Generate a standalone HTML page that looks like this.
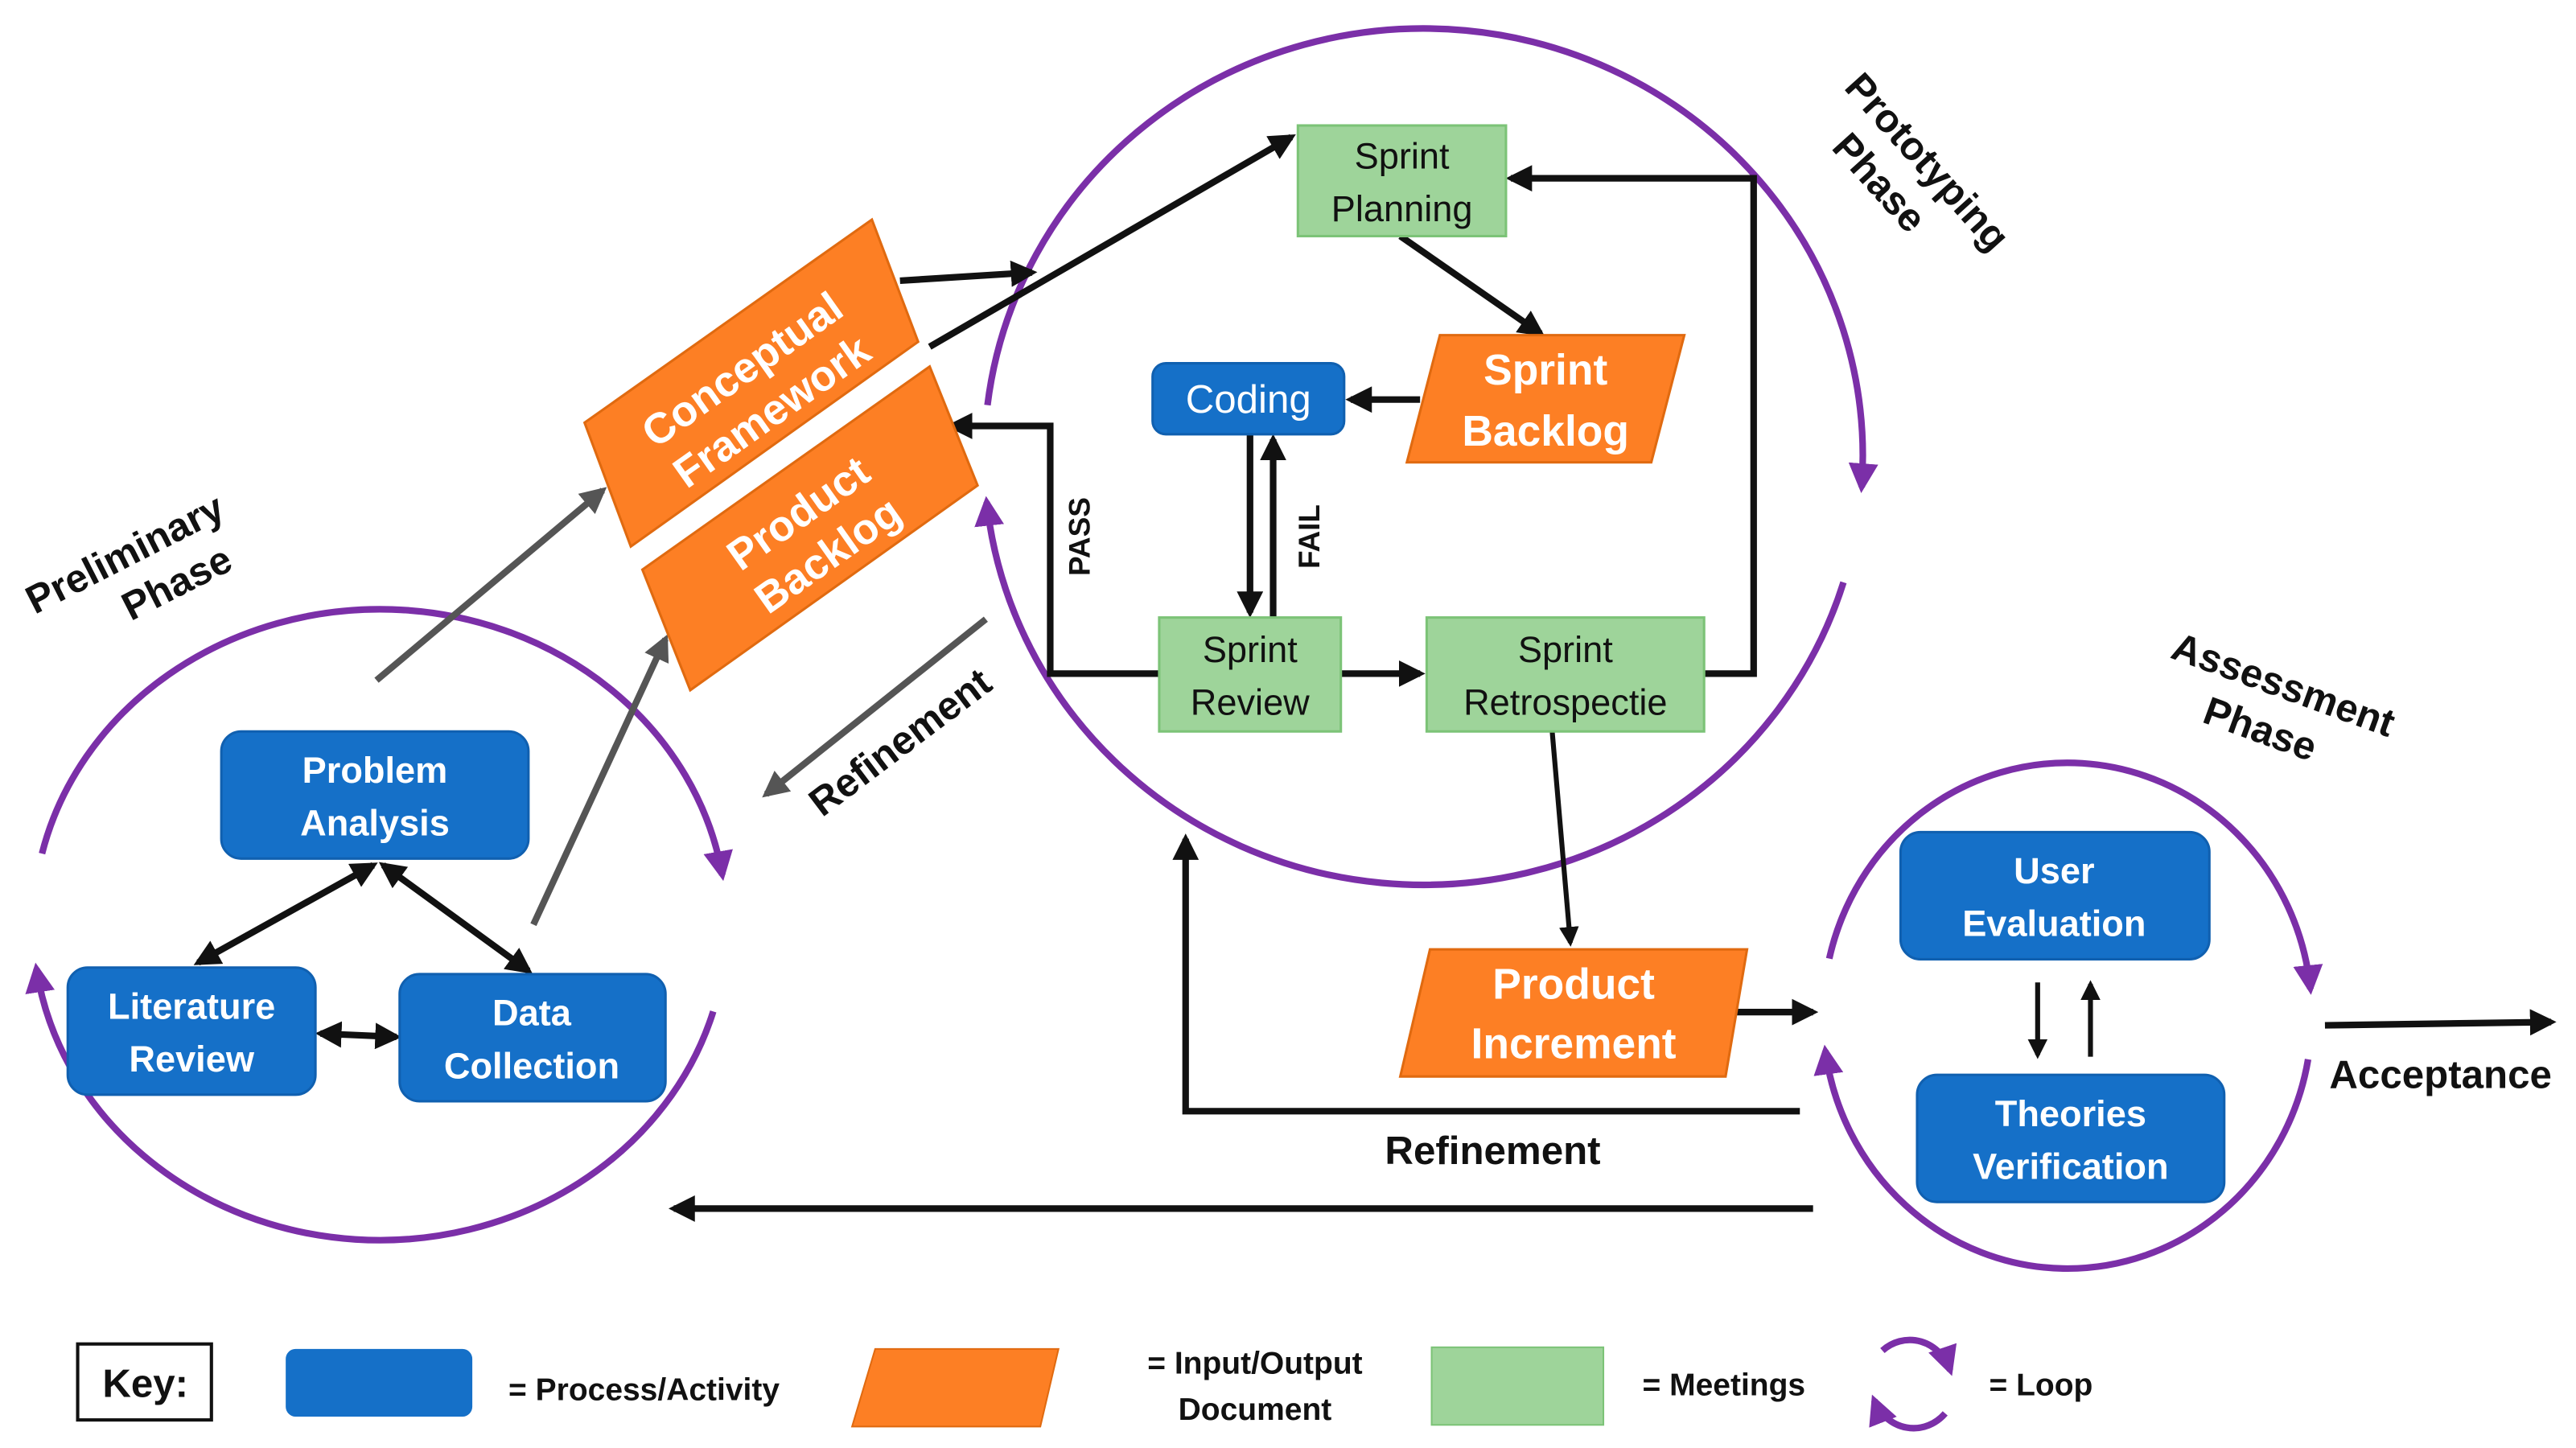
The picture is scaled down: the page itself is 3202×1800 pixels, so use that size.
<!DOCTYPE html>
<html><head><meta charset="utf-8"><style>
html,body{margin:0;padding:0;background:#fff;}
svg{display:block;}
text{font-family:"Liberation Sans Narrow","Liberation Sans",sans-serif;}
</style></head><body>
<svg width="3202" height="1800" viewBox="0 0 1560 877" xmlns="http://www.w3.org/2000/svg">
<defs>
<marker id="ab" viewBox="0 0 10 10" refX="8" refY="5" markerWidth="4" markerHeight="4" orient="auto-start-reverse"><path d="M0,0 L10,5 L0,10 z" fill="#111"/></marker>
<marker id="ag" viewBox="0 0 10 10" refX="8" refY="5" markerWidth="4" markerHeight="4" orient="auto-start-reverse"><path d="M0,0 L10,5 L0,10 z" fill="#555"/></marker>
<marker id="ap" viewBox="0 0 10 10" refX="8" refY="5" markerWidth="4.5" markerHeight="4.5" orient="auto"><path d="M0,0 L10,5 L0,10 z" fill="#7b2fa8"/></marker>
</defs>

<!-- purple loops -->
<g fill="none" stroke="#7b2fa8" stroke-width="4">
<path d="M25.4,517 A210,191 0 0 1 437.4,530" marker-end="url(#ap)"/>
<path d="M431.9,612.6 A210,191 0 0 1 22,586.6" marker-end="url(#ap)"/>
<path d="M598,245.4 A266,259 0 0 1 1127.4,295.1" marker-end="url(#ap)"/>
<path d="M1116.4,352.7 A266,259 0 0 1 597.5,304" marker-end="url(#ap)"/>
<path d="M1107.8,580.6 A148,153 0 0 1 1399.2,599" marker-end="url(#ap)"/>
<path d="M1397.8,641.6 A148,153 0 0 1 1105.4,636.3" marker-end="url(#ap)"/>
</g>

<!-- gray arrows -->
<g stroke="#555" stroke-width="4" fill="none">
<line x1="228" y1="412" x2="365" y2="297" marker-end="url(#ag)"/>
<line x1="323" y1="560" x2="403" y2="387" marker-end="url(#ag)"/>
<line x1="597" y1="375" x2="464" y2="481" marker-end="url(#ag)"/>
</g>

<!-- black arrows -->
<g stroke="#111" stroke-width="4" fill="none">
<line x1="545" y1="170" x2="625" y2="165" marker-end="url(#ab)"/>
<line x1="563" y1="210" x2="782" y2="83" marker-end="url(#ab)"/>
<polyline points="702,408 636,408 636,258 576,258" marker-end="url(#ab)"/>
<line x1="757" y1="263" x2="757" y2="371" marker-end="url(#ab)"/>
<line x1="771" y1="374" x2="771" y2="266" marker-end="url(#ab)"/>
<line x1="860" y1="242" x2="818" y2="242" marker-end="url(#ab)"/>
<line x1="848" y1="143" x2="933" y2="202" marker-end="url(#ab)"/>
<line x1="812" y1="408" x2="860" y2="408" marker-end="url(#ab)"/>
<polyline points="1032,408 1062,408 1062,108 915,108" marker-end="url(#ab)"/>
<line x1="940" y1="443" x2="951" y2="571" stroke-width="3" marker-end="url(#ab)"/>
<line x1="1050" y1="613" x2="1098" y2="613" marker-end="url(#ab)"/>
<polyline points="1090,673 718,673 718,508" marker-end="url(#ab)"/>
<line x1="1098" y1="732" x2="408" y2="732" marker-end="url(#ab)"/>
<line x1="1234" y1="595" x2="1234" y2="639" stroke-width="3" marker-end="url(#ab)"/>
<line x1="1266" y1="640" x2="1266" y2="596" stroke-width="3" marker-end="url(#ab)"/>
<line x1="1408" y1="621" x2="1545" y2="619" marker-end="url(#ab)"/>
<line x1="226" y1="524" x2="120" y2="583" marker-start="url(#ab)" marker-end="url(#ab)"/>
<line x1="232" y1="524" x2="320" y2="588" marker-start="url(#ab)" marker-end="url(#ab)"/>
<line x1="194" y1="626" x2="240" y2="628" marker-start="url(#ab)" marker-end="url(#ab)"/>
</g>

<!-- blue boxes -->
<g fill="#1570c8" stroke="#1060b0" stroke-width="1.5">
<rect x="134" y="443" width="186" height="77" rx="12"/>
<rect x="41" y="586" width="150" height="77" rx="12"/>
<rect x="242" y="590" width="161" height="77" rx="12"/>
<rect x="698" y="220" width="116" height="43" rx="8"/>
<rect x="1151" y="504" width="187" height="77" rx="12"/>
<rect x="1161" y="651" width="186" height="77" rx="12"/>
</g>
<g fill="#fff" font-weight="bold" font-size="22" text-anchor="middle">
<text x="227" y="474">Problem</text><text x="227" y="506">Analysis</text>
<text x="116" y="617">Literature</text><text x="116" y="649">Review</text>
<text x="322" y="621">Data</text><text x="322" y="653">Collection</text>
<text x="1244" y="535">User</text><text x="1244" y="567">Evaluation</text>
<text x="1254" y="682">Theories</text><text x="1254" y="714">Verification</text>
<text x="756" y="250" font-weight="normal" font-size="24">Coding</text>
</g>

<!-- green boxes -->
<g fill="#9ed49a" stroke="#7cc377" stroke-width="1.5">
<rect x="786" y="76" width="126" height="67"/>
<rect x="702" y="374" width="110" height="69"/>
<rect x="864" y="374" width="168" height="69"/>
</g>
<g fill="#111" font-size="22" text-anchor="middle">
<text x="849" y="102">Sprint</text><text x="849" y="134">Planning</text>
<text x="757" y="401">Sprint</text><text x="757" y="433">Review</text>
<text x="948" y="401">Sprint</text><text x="948" y="433">Retrospectie</text>
</g>

<!-- orange shapes -->
<g fill="#fd7f24" stroke="#e06a10" stroke-width="1.5">
<polygon points="354,256 528,133 556,207 382,331"/>
<polygon points="389,345 563,222 592,294 418,418"/>
<polygon points="872,203 1020,203 1000,280 852,280"/>
<polygon points="866,575 1058,575 1045,652 848,652"/>
</g>
<g fill="#fff" font-weight="bold" font-size="26" text-anchor="middle">
<g transform="translate(458,236) rotate(-35.3)"><text x="0" y="-6">Conceptual</text><text x="0" y="25">Framework</text></g>
<g transform="translate(492,323) rotate(-35.3)"><text x="0" y="-6">Product</text><text x="0" y="25">Backlog</text></g>
<text x="936" y="233">Sprint</text><text x="936" y="270">Backlog</text>
<text x="953" y="605">Product</text><text x="953" y="641">Increment</text>
</g>

<!-- labels -->
<g fill="#111" font-weight="bold" text-anchor="middle">
<g transform="translate(82,348) rotate(-27)" font-size="24"><text x="0" y="-6">Preliminary</text><text x="20" y="24">Phase</text></g>
<g transform="translate(1150,100) rotate(48)" font-size="24"><text x="10" y="-6">Prototyping</text><text x="0" y="24">Phase</text></g>
<g transform="translate(1378,428) rotate(20)" font-size="24"><text x="0" y="-6">Assessment</text><text x="-4" y="24">Phase</text></g>
<text transform="translate(550,456) rotate(-37)" font-size="24">Refinement</text>
<text transform="translate(660,325) rotate(-90)" font-size="18">PASS</text>
<text transform="translate(799,325) rotate(-90)" font-size="18">FAIL</text>
<text x="904" y="705" font-size="24">Refinement</text>
<text x="1478" y="659" font-size="24">Acceptance</text>
</g>

<!-- key -->
<rect x="47" y="814" width="81" height="46" fill="#fff" stroke="#111" stroke-width="2"/>
<text x="88" y="846" font-size="24" font-weight="bold" text-anchor="middle" fill="#111">Key:</text>
<rect x="173" y="817" width="113" height="41" rx="6" fill="#1570c8"/>
<text x="390" y="848" font-size="19" font-weight="bold" text-anchor="middle" fill="#111">= Process/Activity</text>
<polygon points="530,817 641,817 630,864 516,864" fill="#fd7f24" stroke="#e06a10"/>
<text x="760" y="832" font-size="19" font-weight="bold" text-anchor="middle" fill="#111">= Input/Output</text>
<text x="760" y="860" font-size="19" font-weight="bold" text-anchor="middle" fill="#111">Document</text>
<rect x="867" y="816" width="104" height="47" fill="#9ed49a" stroke="#7cc377"/>
<text x="1044" y="845" font-size="19" font-weight="bold" text-anchor="middle" fill="#111">= Meetings</text>
<g fill="none" stroke="#7b2fa8" stroke-width="4">
<path d="M1140,818 A26,28 0 0 1 1181,830" marker-end="url(#ap)"/>
<path d="M1178,856 A26,28 0 0 1 1135,848" marker-end="url(#ap)"/>
</g>
<text x="1236" y="845" font-size="19" font-weight="bold" text-anchor="middle" fill="#111">= Loop</text>
</svg>
</body></html>
